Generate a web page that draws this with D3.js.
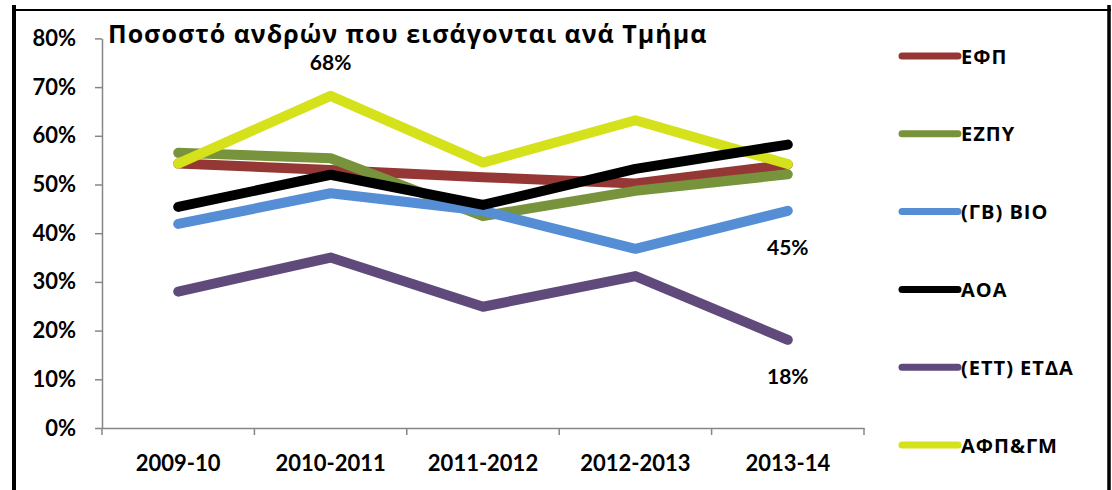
<!DOCTYPE html>
<html>
<head>
<meta charset="utf-8">
<script src="https://cdn.jsdelivr.net/npm/d3@7"></script>
<style>
  body { margin: 0; background: #fff; }
  svg { display: block; font-family: Lato, "Open Sans", sans-serif; font-weight: bold; }
  .axis path, .axis line { stroke: #868686; stroke-width: 1.5; }
  .axis text { fill: #000; font-size: 22px; font-weight: bold; font-family: Lato, sans-serif; }
  .greek { font-family: "Open Sans", sans-serif; }
</style>
</head>
<body>
<div id="chart"></div>
<script>
const title = 'Ποσοστό ανδρών που εισάγονται ανά Τμήμα';
const years = ['2009-10', '2010-2011', '2011-2012', '2012-2013', '2013-14'];
const yTicks = [0, 0.1, 0.2, 0.3, 0.4, 0.5, 0.6, 0.7, 0.8];

const seriesNames = ['ΕΦΠ', 'ΕΖΠΥ', '(ΓΒ) ΒΙΟ', 'ΑΟΑ', '(ΕΤΤ) ΕΤΔΑ', 'ΑΦΠ&ΓΜ'];
const seriesColors = ['#953735', '#77933c', '#558ed5', '#000000', '#604a7b', '#d5e21b'];

const efp   = [0.543, 0.530, 0.515, 0.502, 0.541];
const ezpy  = [0.565, 0.554, 0.435, 0.487, 0.521];
const bio   = [0.419, 0.482, 0.446, 0.368, 0.446];
const aoa   = [0.454, 0.520, 0.458, 0.532, 0.582];
const etda  = [0.280, 0.350, 0.249, 0.312, 0.181];
const afpgm = [0.543, 0.682, 0.545, 0.632, 0.542];
const seriesValues = [efp, ezpy, bio, aoa, etda, afpgm];

// labelled points: [series index, year index, label position]
const dataLabels = [[5, 1, 'above'], [2, 4, 'below'], [4, 4, 'below']];

// draw order in the picture: black sits on top of the yellow line
const drawOrder = [0, 1, 2, 4, 5, 3];

const W = 1112, H = 490;
const svg = d3.select('#chart').append('svg').attr('width', W).attr('height', H);
svg.append('rect').attr('width', W).attr('height', H).attr('fill', '#fff');

// outer frame (left, top, right)
svg.append('line').attr('x1', 14).attr('x2', 14).attr('y1', 5).attr('y2', H).attr('stroke', '#000').attr('stroke-width', 4);
svg.append('line').attr('x1', 12).attr('x2', 1111).attr('y1', 10).attr('y2', 10).attr('stroke', '#000').attr('stroke-width', 2);
svg.append('line').attr('x1', 1109).attr('x2', 1109).attr('y1', 5).attr('y2', H).attr('stroke', '#000').attr('stroke-width', 3.5);

const x = d3.scaleBand().domain(years).range([102, 864]);
const y = d3.scaleLinear().domain([0, 0.8]).range([428, 38.4]);
const fmt = d3.format('.0%');

// y axis
svg.append('g').attr('class', 'axis').attr('transform', 'translate(102,0)')
  .call(d3.axisLeft(y).tickValues(yTicks).tickFormat(fmt).tickSize(7).tickPadding(19).tickSizeOuter(0));

// x axis: labels centred, tick marks between categories
const xAxis = svg.append('g').attr('class', 'axis').attr('transform', 'translate(0,428)')
  .call(d3.axisBottom(x).tickSize(0).tickPadding(28).tickSizeOuter(0));
xAxis.selectAll('.tick text').attr('dy', '0.35em').attr('y', 35);
const edges = years.map(d => x(d)).concat([x.range()[1]]);
xAxis.selectAll('line.edge').data(edges).join('line').attr('class', 'edge')
  .attr('x1', d => d).attr('x2', d => d).attr('y1', 0).attr('y2', 7);

// lines
const line = d3.line().x((d, i) => x(years[i]) + x.bandwidth() / 2).y(d => y(d));
svg.append('g').selectAll('path').data(drawOrder).join('path')
  .attr('d', k => line(seriesValues[k]))
  .attr('fill', 'none')
  .attr('stroke', k => seriesColors[k])
  .attr('stroke-width', 10)
  .attr('stroke-linejoin', 'round')
  .attr('stroke-linecap', 'round');

// data labels
svg.append('g').selectAll('text').data(dataLabels).join('text')
  .attr('x', d => x(years[d[1]]) + x.bandwidth() / 2)
  .attr('y', d => y(seriesValues[d[0]][d[1]]) + (d[2] === 'above' ? -34 : 36))
  .attr('text-anchor', 'middle')
  .attr('dominant-baseline', 'central')
  .attr('font-size', 21)
  .text(d => fmt(seriesValues[d[0]][d[1]]));

// title
svg.append('text').attr('class', 'greek').attr('x', 108).attr('y', 33).attr('dominant-baseline', 'central')
  .attr('font-size', 25).attr('letter-spacing', 1).text(title);

// legend
const legend = svg.append('g').selectAll('g').data(seriesNames).join('g')
  .attr('transform', (d, i) => `translate(900,${56 + i * 77.8})`);
legend.append('line').attr('x1', 2).attr('x2', 58)
  .attr('stroke', (d, i) => seriesColors[i]).attr('stroke-width', 7).attr('stroke-linecap', 'round');
legend.append('text').attr('class', 'greek').attr('x', 61).attr('dominant-baseline', 'central')
  .attr('font-size', 20).attr('letter-spacing', 1).text(d => d);
</script>
</body>
</html>
